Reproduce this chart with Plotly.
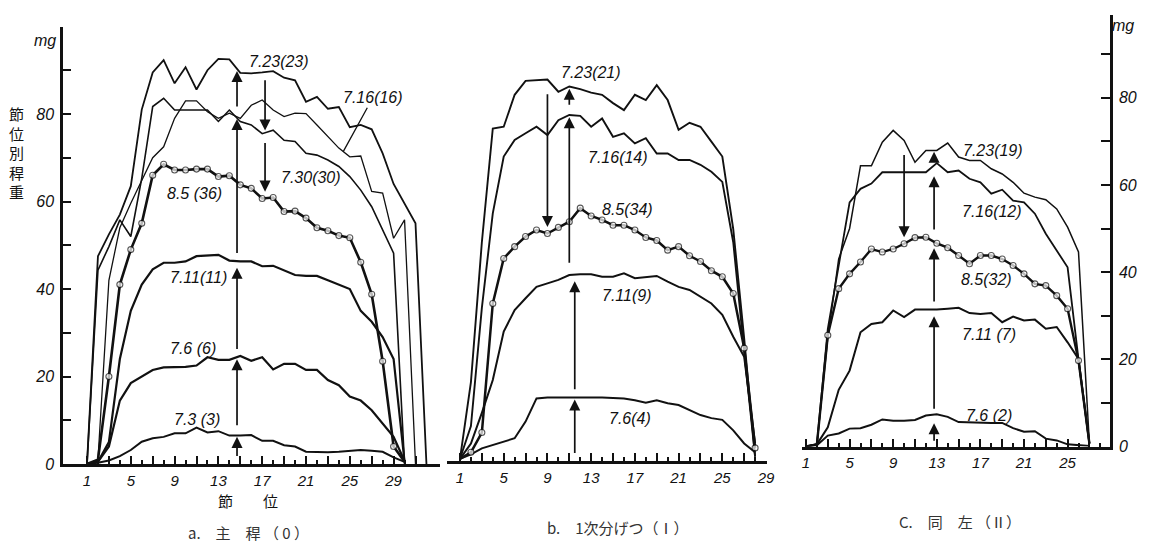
import numpy as np
import plotly.graph_objects as go

W, H = 1150, 548
INK = "#111111"

# ---------------------------------------------------------------
# Stem weight per node position (mg); index 0 is node 1
# ---------------------------------------------------------------
# a. main culm
a_723 = [0, 47.5, 52.5, 57, 63.5, 81, 89.5, 92.3, 87, 90.7, 85.6, 90, 92.6, 92.5, 89.4,
         89.3, 89.5, 89.8, 88.3, 87.7, 82.8, 83.9, 81.2, 81.6, 77, 77.5, 76.5, 71, 64,
         59.6, 55, 0]
a_716 = [0, 1, 42, 54, 59.6, 64.7, 70, 72.5, 79, 83, 83, 80.5, 79, 80.2, 79, 82, 83.2,
         80.9, 79.4, 80.2, 80.1, 77.5, 74.8, 72.2, 70.2, 70.4, 62.3, 61.9, 51.6, 55.8, 0]
a_730 = [0, 44.3, 49.7, 55.8, 52, 65.3, 81.7, 83.6, 80.9, 80.9, 80.9, 80.9, 78.3, 80.9,
         78.3, 77.5, 75.5, 76.3, 74, 73.7, 71, 70.6, 69.5, 68, 65.7, 62.6, 58.8, 53.5,
         48.2, 0]
a_805 = [0, 1, 20, 41, 49, 55, 66, 68.5, 67.2, 67.2, 67.4, 67.4, 65.7, 65.9, 63.8, 63,
         60.7, 60.9, 57.7, 57.8, 56.2, 54, 53.3, 52.2, 51.7, 46.1, 38.8, 23.5, 4, 0.5]
a_711 = [0, 0.5, 5, 24, 35, 41, 44.5, 46, 46, 46.3, 47.5, 47.6, 47.8, 46.5, 46.3, 46.3,
         45.2, 45.3, 44.2, 43.2, 43, 43, 42, 41, 40, 35, 32.5, 29, 24, 0.5]
a_706 = [0, 0.5, 4, 14.5, 18.5, 20, 21.5, 22.1, 22.2, 22.2, 22.5, 24.4, 23.8, 23.8, 24.7,
         23.6, 24.4, 21.6, 22.9, 22.9, 21.5, 21.5, 19.2, 18, 15.4, 14.5, 12.3, 9.3, 6.2, 0.7]
a_703 = [0, 0.3, 0.8, 1.8, 3.2, 5.1, 5.9, 6.2, 7, 7, 8.3, 7.2, 7.5, 6.5, 6.5, 6.6, 5.3,
         5.3, 4.3, 4, 2.8, 2.7, 2.7, 2.8, 3, 3.2, 3, 2.8, 1.5, 0.5]

# b. primary tillers (I)
b_723 = [0.5, 18, 50, 76, 76.4, 83.7, 86.9, 87.1, 87.2, 84.4, 85.6, 85, 84.2, 83.7, 81.8,
         80.2, 83.7, 82.5, 85.9, 82.5, 75.7, 77.3, 76.4, 73, 69.6, 53, 28, 1]
b_716 = [0.5, 8, 35, 56.6, 69.6, 73.4, 74.9, 76.4, 74.5, 77.9, 79.1, 78.9, 76.4, 78.3,
         74.1, 74.9, 72.6, 73.8, 70.3, 70.3, 68.8, 68.8, 67.7, 66.1, 63.8, 50, 25, 1]
b_805 = [0.5, 2, 6.5, 36, 46.3, 49, 51.3, 52.8, 52, 53.4, 54.7, 57.8, 56, 55.1, 53.9, 53.9,
         52.8, 51.1, 50.4, 48.2, 49, 46.9, 45.6, 43.5, 42.1, 38.3, 25.8, 3]
b_711 = [0.5, 4, 11, 18.5, 29.6, 34.5, 37.2, 39.8, 40.6, 41.4, 42.5, 42.7, 42.7, 42.1, 42.1,
         42.9, 41.8, 42.1, 42.3, 41, 39.8, 39.1, 37.6, 36, 33.4, 28.4, 23.8, 4]
b_706 = [0.5, 1.5, 2.9, 3.7, 4.5, 5.2, 9, 14.3, 14.5, 14.5, 14.6, 14.5, 14.6, 14.5, 14.4,
         14.3, 13.9, 13.3, 13.9, 13.2, 12.8, 11.7, 10.5, 9.8, 9.4, 7, 4, 2]

# c. same, secondary (II)
c_723 = [0, 0.5, 25, 43, 50, 64.4, 64.4, 69.8, 72.5, 70.2, 65.2, 67.9, 67.9, 69.6, 66.4,
         65.6, 65.6, 63.7, 62.5, 60.6, 58.1, 57.2, 56.6, 54.5, 50.3, 44.6, 0.7]
c_716 = [0, 0.5, 27, 42, 56, 59.1, 60.3, 62.9, 62.9, 62.9, 62.9, 62.9, 65, 62.9, 63.3, 61.4,
         60.6, 58, 58.9, 56.4, 56, 53.4, 48.8, 45, 41.1, 20, 0.7]
c_805 = [0, 0.5, 25.5, 36.2, 39.6, 42.3, 45.3, 44.6, 45.3, 46.5, 47.9, 48, 46.6, 45.6, 43.8,
         41.9, 43.8, 43.8, 43, 41.5, 39.6, 37.3, 36.9, 34.6, 31.6, 19.7, 0.7]
c_711 = [0, 0.5, 4.4, 13, 17.4, 26.2, 28.1, 28.5, 31.2, 29.7, 31.4, 31.4, 31.4, 31.6, 31.8,
         30.6, 30.4, 30.6, 28.5, 29.8, 28.9, 29.1, 27, 27.4, 23.9, 20.1, 0.6]
c_706 = [0, 0.3, 2.5, 3, 4.1, 4.2, 5, 6.2, 5.9, 5.9, 6.1, 7.1, 7.4, 6.8, 5.6, 5.5, 5.5, 5.4,
         5.4, 4.2, 3.4, 3.5, 1.8, 1.4, 0.5, 0.3, 0.1]

# axis labels
a_xlabels = [1, 5, 9, 13, 17, 21, 25, 29]
b_xlabels = [1, 5, 9, 13, 17, 21, 25, 29]
c_xlabels = [1, 5, 9, 13, 17, 21, 25]
y_labels = [0, 20, 40, 60, 80]

# curve labels
a_names = ["7.23(23)", "7.16(16)", "7.30(30)", "8.5 (36)", "7.11(11)", "7.6 (6)", "7.3 (3)"]
b_names = ["7.23(21)", "7.16(14)", "8.5(34)", "7.11(9)", "7.6(4)"]
c_names = ["7.23(19)", "7.16(12)", "8.5(32)", "7.11 (7)", "7.6 (2)"]

NUM_FONT = dict(family="Liberation Sans", size=16, color=INK, style="italic")
TICK_FONT = dict(family="Liberation Sans", size=15, color=INK, style="italic")
JP_FONT = dict(family="Noto Sans CJK JP", size=15, color=INK)


def px_x(p):
    return p / W


def px_y(p):
    return 1 - p / H


def nodes(vals):
    return list(range(1, len(vals) + 1))


def at(vals, x):
    return float(np.interp(x, nodes(vals), vals))


fig = go.Figure()


def curve(vals, xa, ya, width, circles=False):
    tr = dict(x=nodes(vals), y=vals, xaxis=xa, yaxis=ya, showlegend=False,
              hoverinfo="skip", line=dict(color=INK, width=width))
    if circles:
        tr["mode"] = "lines+markers"
        tr["marker"] = dict(symbol="circle", color="white",
                            size=[6 if v >= 1.5 else 0 for v in vals],
                            line=dict(color=INK, width=1.1))
    else:
        tr["mode"] = "lines"
    fig.add_trace(go.Scatter(**tr))


# panel a
curve(a_723, "x", "y", 1.8)
curve(a_716, "x", "y", 1.3)
curve(a_730, "x", "y", 1.6)
curve(a_711, "x", "y", 2.2)
curve(a_706, "x", "y", 2.2)
curve(a_703, "x", "y", 2.0)
curve(a_805, "x", "y", 2.6, circles=True)
# panel b
curve(b_723, "x2", "y2", 1.9)
curve(b_716, "x2", "y2", 1.9)
curve(b_711, "x2", "y2", 2.0)
curve(b_706, "x2", "y2", 2.0)
curve(b_805, "x2", "y2", 2.5, circles=True)
# panel c
curve(c_723, "x3", "y3", 1.5)
curve(c_716, "x3", "y3", 1.8)
curve(c_711, "x3", "y3", 2.0)
curve(c_706, "x3", "y3", 2.0)
curve(c_805, "x3", "y3", 2.4, circles=True)


def arrow(xa, ya, x, y_from, y_to):
    fig.add_annotation(x=x, y=y_to, ax=x, ay=y_from, xref=xa, yref=ya, axref=xa, ayref=ya,
                       text="", showarrow=True, arrowhead=2, arrowsize=1.3,
                       arrowwidth=1.7, arrowcolor=INK, standoff=0, startstandoff=0)


# panel a: rising weights (up) then translocation (down)
xu = 14.7
arrow("x", "y", xu, 1.5, at(a_703, xu) - 0.3)
arrow("x", "y", xu, at(a_703, xu) + 2, at(a_706, xu) - 0.5)
arrow("x", "y", xu, at(a_706, xu) + 1.5, at(a_711, xu) - 1.5)
arrow("x", "y", xu, at(a_711, xu) + 1.5, at(a_716, xu) - 0.5)
arrow("x", "y", xu, at(a_716, xu) + 2, at(a_723, xu) - 0.5)
xd = 17.26
arrow("x", "y", xd, at(a_723, xd) - 1.5, at(a_730, xd) + 0.5)
arrow("x", "y", xd, at(a_730, xd) - 2, at(a_805, xd) + 1.5)

# panel b
arrow("x2", "y2", 11.5, 1.5, at(b_706, 11.5) - 0.5)
arrow("x2", "y2", 11.5, at(b_706, 11.5) + 1.5, at(b_711, 11.5) - 1.5)
arrow("x2", "y2", 11.0, at(b_711, 11.0) + 2.5, at(b_716, 11.0) - 0.5)
arrow("x2", "y2", 11.0, at(b_716, 11.0) + 2, at(b_723, 11.0) - 0.5)
arrow("x2", "y2", 9.0, at(b_723, 9.0) - 3, at(b_805, 9.0) + 1.5)

# panel c
xc = 12.75
arrow("x3", "y3", xc, 1.0, at(c_706, xc) - 2)
arrow("x3", "y3", xc, at(c_706, xc) + 1, at(c_711, xc) - 1.5)
arrow("x3", "y3", xc, at(c_711, xc) + 1.5, at(c_805, xc) - 1.5)
arrow("x3", "y3", xc, at(c_805, xc) + 2.5, at(c_716, xc) - 2.5)
arrow("x3", "y3", xc, at(c_716, xc) + 0.8, at(c_723, xc) - 0.3)
arrow("x3", "y3", 10.0, at(c_723, 10.0) - 3, at(c_805, 10.0) + 1.5)


def label(xa, ya, x, y, text):
    fig.add_annotation(x=x, y=y, xref=xa, yref=ya, text=text, showarrow=False,
                       font=NUM_FONT, xanchor="center", yanchor="middle")


label("x", "y", 18.5, 91.9, a_names[0])
fig.add_annotation(x=24.4, y=at(a_716, 24.4), ax=27.1, ay=83.7, xref="x", yref="y",
                   axref="x", ayref="y", text=a_names[1], font=NUM_FONT, showarrow=True,
                   arrowhead=0, arrowwidth=1.3, arrowcolor=INK, standoff=0)
label("x", "y", 21.46, 65.6, a_names[2])
label("x", "y", 10.86, 61.9, a_names[3])
label("x", "y", 11.2, 42.7, a_names[4])
label("x", "y", 10.7, 26.5, a_names[5])
label("x", "y", 11.05, 10.1, a_names[6])

label("x2", "y2", 13.0, 88.7, b_names[0])
label("x2", "y2", 15.46, 69.3, b_names[1])
label("x2", "y2", 16.37, 57.4, b_names[2])
label("x2", "y2", 16.28, 37.9, b_names[3])
label("x2", "y2", 16.55, 9.8, b_names[4])

label("x3", "y3", 18.16, 68.0, c_names[0])
label("x3", "y3", 18.06, 54.0, c_names[1])
label("x3", "y3", 17.6, 38.2, c_names[2])
label("x3", "y3", 17.8, 25.6, c_names[3])
label("x3", "y3", 17.8, 7.2, c_names[4])


def paper_text(px, py, text, font):
    fig.add_annotation(x=px_x(px), y=px_y(py), xref="paper", yref="paper", text=text,
                       showarrow=False, font=font, xanchor="center", yanchor="middle")


paper_text(45, 41, "mg", NUM_FONT)
paper_text(1123, 25, "mg", NUM_FONT)
paper_text(16, 152, "<br>".join("節位別稈重"), JP_FONT)
paper_text(248, 500, "節　　位", JP_FONT)
cap_font = dict(family="Noto Sans CJK JP", size=15, color="#333333")
paper_text(248, 532, "a.　主　稈 （ 0 ）", cap_font)
paper_text(618, 527, "b.　1次分げつ（Ⅰ）", cap_font)
paper_text(960, 521, "C.　同　左 （Ⅱ）", cap_font)


def xaxis_cfg(px0, px1, node1_px, step, last_tick, labels, anchor):
    lo = 1 + (px0 - node1_px) / step
    hi = 1 + (px1 - node1_px) / step
    major = list(range(1, last_tick + 1, 2))
    minor = list(range(2, last_tick + 1, 2))
    return dict(domain=[px_x(px0), px_x(px1)], range=[lo, hi], anchor=anchor,
                automargin=False,
                showline=True, linecolor=INK, linewidth=2.5, showgrid=False, zeroline=False,
                ticks="inside", ticklen=8, tickwidth=1.8, tickcolor=INK,
                tickmode="array", tickvals=major,
                ticktext=[str(n) if n in labels else "" for n in major],
                tickfont=TICK_FONT, ticklabelstandoff=1,
                minor=dict(tickmode="array", tickvals=minor, ticks="inside", ticklen=4,
                           tickwidth=1.5, tickcolor=INK, showgrid=False))


def ytick_text(vals):
    return [str(v) if v in y_labels else "" for v in vals]


ya_vals = list(range(0, 101, 10))
yc_vals = list(range(0, 91, 10)) + [99]

fig.update_layout(
    template="none",
    width=W, height=H, autosize=False,
    margin=dict(l=0, r=0, t=0, b=0, pad=0),
    paper_bgcolor="white", plot_bgcolor="rgba(0,0,0,0)",
    showlegend=False,
    xaxis=xaxis_cfg(63, 440, 87, 10.95, 31, a_xlabels, "y"),
    yaxis=dict(domain=[px_y(464), px_y(464 - 100 * 4.375)], range=[0, 100], anchor="x",
               automargin=False,
               showline=True, linecolor=INK, linewidth=2.5, showgrid=False, zeroline=False,
               ticks="inside", ticklen=8, tickwidth=2, tickcolor=INK,
               tickmode="array", tickvals=ya_vals, ticktext=ytick_text(ya_vals),
               tickfont=NUM_FONT, ticklabelstandoff=3),
    xaxis2=xaxis_cfg(447, 767, 460, 10.93, 29, b_xlabels, "y2"),
    yaxis2=dict(domain=[px_y(461), px_y(461 - 100 * 4.375)], range=[0, 100], anchor="x2",
                automargin=False, visible=False),
    xaxis3=xaxis_cfg(802, 1110, 806, 10.9, 28, c_xlabels, "y3"),
    yaxis3=dict(domain=[px_y(446.5), px_y(446.5 - 99 * 4.36)], range=[0, 99], anchor="x3",
                automargin=False,
                side="right", showline=True, linecolor=INK, linewidth=2.5, showgrid=False,
                zeroline=False, ticks="inside", ticklen=9, tickwidth=2, tickcolor=INK,
                tickmode="array", tickvals=yc_vals, ticktext=ytick_text(yc_vals),
                tickfont=NUM_FONT, ticklabelstandoff=3),
)

fig.write_html("out.html", include_plotlyjs=True, config={"displayModeBar": False})
